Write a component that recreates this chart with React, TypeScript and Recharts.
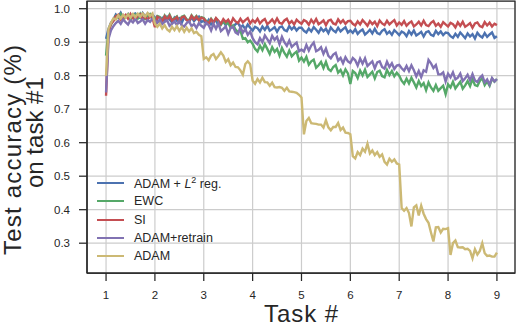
import { LineChart, Line, XAxis, YAxis, CartesianGrid, Legend, Label, ReferenceArea } from 'recharts'

// one sample every 0.05 task, from task 1 to task 9
const SAMPLE_STEP = 0.05
const X_TICKS = [1, 2, 3, 4, 5, 6, 7, 8, 9]
const Y_TICKS = [0.3, 0.4, 0.5, 0.6, 0.7, 0.8, 0.9, 1.0]
const X_DOMAIN = [0.61, 9.37]
const Y_DOMAIN = [0.211, 1.023]

const L2_REG = [
  0.91, 0.94, 0.958, 0.968, 0.983, 0.976, 0.988, 0.973, 0.978, 0.984, 0.97, 0.983, 0.986, 0.975, 0.972, 0.987, 0.977, 0.985, 0.974, 0.982,
  0.974, 0.965, 0.96, 0.972, 0.963, 0.976, 0.968, 0.959, 0.973, 0.964, 0.971, 0.958, 0.975, 0.966, 0.961, 0.974, 0.963, 0.97, 0.976, 0.96,
  0.964, 0.956, 0.967, 0.953, 0.961, 0.965, 0.95, 0.955, 0.962, 0.95, 0.962, 0.948, 0.944, 0.954, 0.958, 0.944, 0.95, 0.939, 0.953, 0.943,
  0.935, 0.946, 0.942, 0.932, 0.947, 0.937, 0.949, 0.934, 0.939, 0.945, 0.931, 0.944, 0.947, 0.936, 0.933, 0.948, 0.938, 0.946, 0.935, 0.943,
  0.943, 0.934, 0.929, 0.941, 0.932, 0.945, 0.937, 0.928, 0.942, 0.933, 0.94, 0.927, 0.944, 0.935, 0.93, 0.943, 0.932, 0.939, 0.945, 0.929,
  0.935, 0.928, 0.939, 0.925, 0.933, 0.938, 0.923, 0.929, 0.937, 0.926, 0.94, 0.927, 0.924, 0.934, 0.939, 0.925, 0.932, 0.922, 0.936, 0.929,
  0.921, 0.932, 0.928, 0.918, 0.933, 0.923, 0.935, 0.92, 0.925, 0.931, 0.917, 0.93, 0.933, 0.922, 0.919, 0.934, 0.924, 0.932, 0.921, 0.929,
  0.927, 0.918, 0.913, 0.925, 0.916, 0.929, 0.921, 0.912, 0.926, 0.917, 0.924, 0.911, 0.928, 0.919, 0.914, 0.927, 0.916, 0.923, 0.929, 0.913,
  0.918,
]

const EWC = [
  0.86, 0.935, 0.952, 0.965, 0.978, 0.973, 0.984, 0.969, 0.975, 0.983, 0.968, 0.974, 0.982, 0.971, 0.985, 0.972, 0.969, 0.979, 0.984, 0.97,
  0.967, 0.978, 0.975, 0.963, 0.98, 0.969, 0.982, 0.966, 0.971, 0.977, 0.962, 0.976, 0.979, 0.968, 0.965, 0.98, 0.97, 0.978, 0.966, 0.975,
  0.972, 0.963, 0.958, 0.97, 0.96, 0.971, 0.962, 0.952, 0.963, 0.955, 0.958, 0.943, 0.95, 0.938, 0.93, 0.935, 0.91, 0.912, 0.9, 0.905,
  0.895, 0.88, 0.872, 0.89, 0.876, 0.894, 0.88, 0.865, 0.885, 0.871, 0.88, 0.86, 0.883, 0.868, 0.857, 0.875, 0.858, 0.866, 0.872, 0.845,
  0.854, 0.842, 0.856, 0.833, 0.843, 0.848, 0.824, 0.831, 0.841, 0.823, 0.841, 0.82, 0.814, 0.826, 0.832, 0.809, 0.817, 0.801, 0.819, 0.807,
  0.775, 0.814, 0.808, 0.793, 0.815, 0.801, 0.818, 0.796, 0.804, 0.812, 0.792, 0.811, 0.815, 0.799, 0.795, 0.817, 0.802, 0.814, 0.798, 0.809,
  0.8, 0.785, 0.776, 0.791, 0.777, 0.794, 0.78, 0.765, 0.784, 0.769, 0.778, 0.757, 0.78, 0.765, 0.755, 0.772, 0.755, 0.763, 0.77, 0.745,
  0.774, 0.765, 0.782, 0.762, 0.772, 0.782, 0.761, 0.771, 0.784, 0.769, 0.79, 0.772, 0.769, 0.784, 0.793, 0.772, 0.783, 0.77, 0.791, 0.782,
  0.79,
]

const SI = [
  0.74, 0.93, 0.955, 0.963, 0.977, 0.982, 0.967, 0.973, 0.981, 0.97, 0.984, 0.971, 0.968, 0.978, 0.983, 0.969, 0.976, 0.966, 0.98, 0.973,
  0.945, 0.976, 0.972, 0.962, 0.977, 0.967, 0.979, 0.964, 0.969, 0.975, 0.961, 0.974, 0.977, 0.966, 0.963, 0.978, 0.968, 0.976, 0.965, 0.973,
  0.97, 0.961, 0.956, 0.968, 0.959, 0.972, 0.964, 0.955, 0.969, 0.96, 0.967, 0.954, 0.971, 0.962, 0.957, 0.97, 0.959, 0.966, 0.972, 0.956,
  0.966, 0.959, 0.97, 0.956, 0.964, 0.969, 0.954, 0.96, 0.968, 0.957, 0.971, 0.958, 0.955, 0.965, 0.97, 0.956, 0.963, 0.953, 0.967, 0.96,
  0.955, 0.966, 0.962, 0.952, 0.967, 0.957, 0.969, 0.954, 0.959, 0.965, 0.951, 0.964, 0.967, 0.956, 0.953, 0.968, 0.958, 0.966, 0.955, 0.963,
  0.964, 0.955, 0.95, 0.962, 0.953, 0.966, 0.958, 0.949, 0.963, 0.954, 0.961, 0.948, 0.965, 0.956, 0.951, 0.964, 0.953, 0.96, 0.966, 0.95,
  0.959, 0.952, 0.963, 0.949, 0.957, 0.962, 0.947, 0.953, 0.961, 0.95, 0.964, 0.951, 0.948, 0.958, 0.963, 0.949, 0.956, 0.946, 0.96, 0.953,
  0.947, 0.958, 0.954, 0.944, 0.959, 0.949, 0.961, 0.946, 0.951, 0.957, 0.943, 0.956, 0.959, 0.948, 0.945, 0.96, 0.95, 0.958, 0.947, 0.955,
  0.951,
]

const ADAM_RETRAIN = [
  0.75, 0.91, 0.935, 0.948, 0.957, 0.964, 0.955, 0.968, 0.96, 0.953, 0.966, 0.959, 0.97, 0.957, 0.962, 0.968, 0.955, 0.966, 0.961, 0.97,
  0.966, 0.958, 0.968, 0.954, 0.961, 0.965, 0.949, 0.955, 0.962, 0.951, 0.964, 0.95, 0.947, 0.957, 0.962, 0.948, 0.954, 0.943, 0.957, 0.949,
  0.943, 0.958, 0.951, 0.935, 0.955, 0.94, 0.956, 0.933, 0.94, 0.947, 0.925, 0.943, 0.946, 0.929, 0.924, 0.945, 0.928, 0.939, 0.922, 0.932,
  0.912, 0.9, 0.894, 0.912, 0.9, 0.92, 0.909, 0.897, 0.919, 0.907, 0.916, 0.894, 0.916, 0.9, 0.889, 0.905, 0.886, 0.893, 0.899, 0.873,
  0.878, 0.872, 0.892, 0.875, 0.89, 0.899, 0.873, 0.877, 0.885, 0.865, 0.881, 0.859, 0.852, 0.863, 0.868, 0.845, 0.853, 0.837, 0.855, 0.843,
  0.838, 0.853, 0.846, 0.83, 0.851, 0.836, 0.852, 0.829, 0.836, 0.843, 0.822, 0.84, 0.843, 0.826, 0.821, 0.842, 0.826, 0.837, 0.82, 0.83,
  0.832, 0.822, 0.815, 0.829, 0.814, 0.831, 0.816, 0.798, 0.814, 0.796, 0.816, 0.812, 0.847, 0.837, 0.823, 0.832, 0.804, 0.804, 0.81, 0.783,
  0.806, 0.795, 0.81, 0.789, 0.794, 0.806, 0.784, 0.792, 0.803, 0.786, 0.805, 0.786, 0.781, 0.794, 0.801, 0.78, 0.789, 0.774, 0.793, 0.783,
  0.79,
]

const ADAM = [
  0.8, 0.94, 0.957, 0.971, 0.968, 0.98, 0.971, 0.982, 0.973, 0.983, 0.974, 0.984, 0.975, 0.985, 0.976, 0.986, 0.977, 0.987, 0.978, 0.986,
  0.955, 0.946, 0.955, 0.941, 0.951, 0.938, 0.932, 0.946, 0.936, 0.948, 0.934, 0.945, 0.931, 0.943, 0.932, 0.941, 0.927, 0.931, 0.922, 0.918,
  0.85, 0.855, 0.846, 0.86, 0.865, 0.85, 0.859, 0.87, 0.86, 0.841, 0.849, 0.831, 0.839, 0.826, 0.825, 0.816, 0.803, 0.835, 0.843, 0.834,
  0.785, 0.776, 0.79, 0.78, 0.794, 0.781, 0.78, 0.77, 0.779, 0.766, 0.765, 0.766, 0.764, 0.755, 0.764, 0.753, 0.752, 0.751, 0.749, 0.743,
  0.735, 0.625, 0.665, 0.674, 0.658, 0.657, 0.656, 0.654, 0.654, 0.645, 0.667, 0.646, 0.637, 0.647, 0.647, 0.659, 0.638, 0.645, 0.63, 0.629,
  0.625, 0.56, 0.553, 0.572, 0.563, 0.582, 0.573, 0.597, 0.568, 0.577, 0.563, 0.572, 0.558, 0.565, 0.543, 0.535, 0.552, 0.543, 0.55, 0.538,
  0.535, 0.405, 0.397, 0.405, 0.39, 0.35, 0.407, 0.413, 0.383, 0.412, 0.388, 0.372, 0.361, 0.332, 0.305, 0.347, 0.348, 0.332, 0.343, 0.342,
  0.345, 0.265, 0.3, 0.308, 0.288, 0.287, 0.288, 0.282, 0.283, 0.277, 0.255, 0.282, 0.266, 0.277, 0.3, 0.27, 0.262, 0.263, 0.26, 0.26,
  0.272,
]

const SERIES = [
  { key: 'l2', name: 'ADAM + L2 reg.', color: '#4C72B0' },
  { key: 'ewc', name: 'EWC', color: '#55A868' },
  { key: 'si', name: 'SI', color: '#C44E52' },
  { key: 'retrain', name: 'ADAM+retrain', color: '#8172B2' },
  { key: 'adam', name: 'ADAM', color: '#CCB974' },
]

const data = SI.map((_, i) => ({
  x: Math.round((1 + i * SAMPLE_STEP) * 100) / 100,
  l2: L2_REG[i],
  ewc: EWC[i],
  si: SI[i],
  retrain: ADAM_RETRAIN[i],
  adam: ADAM[i],
}))

const FONT = '"Liberation Sans", Arial, sans-serif'
const INK = '#262626'

function legendName(key: string, name: string) {
  if (key === 'l2') {
    return (
      <>
        ADAM + <i>L</i>
        <sup style={{ fontSize: 9, verticalAlign: 5 }}>2</sup> reg.
      </>
    )
  }
  return name
}

function InPlotLegend() {
  return (
    <div style={{ fontFamily: FONT, fontSize: 12.5, color: INK }}>
      {SERIES.map((s) => (
        <div key={s.key} style={{ display: 'flex', alignItems: 'center', height: 18.25, whiteSpace: 'nowrap' }}>
          <span style={{ display: 'inline-block', width: 27, height: 2, background: s.color, marginRight: 10 }} />
          <span>{legendName(s.key, s.name)}</span>
        </div>
      ))}
    </div>
  )
}

// two-line y title, each line starts at its bottom end and runs upwards
function YTitle(props: any) {
  const { x, y } = props.viewBox
  return (
    <g fontFamily={FONT} fontSize={24} fill={INK} textAnchor="start">
      <text transform={`translate(${x + 21},${y + 254}) rotate(-90)`} textLength={210} lengthAdjust="spacing">
        Test accuracy (%)
      </text>
      <text transform={`translate(${x + 43},${y + 187}) rotate(-90)`}>on task #1</text>
    </g>
  )
}

function XTitle(props: any) {
  const { x, y, width } = props.viewBox
  return (
    <text
      x={x + width / 2 - 37}
      y={y + 49}
      fontFamily={FONT}
      fontSize={24}
      fill={INK}
      textAnchor="start"
      textLength={74}
      lengthAdjust="spacing"
    >
      Task #
    </text>
  )
}

export default function App() {
  return (
    <div style={{ position: 'absolute', left: 0, top: 0, background: '#fff' }}>
      <LineChart width={516} height={326} data={data} margin={{ top: 1, right: 1, left: 0, bottom: 0 }}>
        <CartesianGrid stroke="#cccccc" strokeWidth={1.2} />
        <XAxis
          dataKey="x"
          type="number"
          domain={X_DOMAIN}
          ticks={X_TICKS}
          allowDataOverflow
          height={53}
          tickSize={8}
          tickMargin={10}
          axisLine={{ stroke: INK, strokeWidth: 1.25 }}
          tickLine={{ stroke: INK, strokeWidth: 1.25 }}
          tick={{ fill: INK, fontSize: 11.5, fontFamily: FONT }}
        >
          <Label content={XTitle} />
        </XAxis>
        <YAxis
          type="number"
          domain={Y_DOMAIN}
          ticks={Y_TICKS}
          allowDataOverflow
          width={87}
          tickSize={8}
          tickMargin={9}
          tickFormatter={(v: number) => v.toFixed(1)}
          axisLine={{ stroke: INK, strokeWidth: 1.25 }}
          tickLine={{ stroke: INK, strokeWidth: 1.25 }}
          tick={{ fill: INK, fontSize: 11.5, fontFamily: FONT }}
        >
          <Label content={YTitle} />
        </YAxis>
        {SERIES.map((s) => (
          <Line
            key={s.key}
            dataKey={s.key}
            name={s.name}
            stroke={s.color}
            strokeWidth={2.4}
            dot={false}
            type="linear"
            isAnimationActive={false}
          />
        ))}
        <ReferenceArea
          x1={X_DOMAIN[0]}
          x2={X_DOMAIN[1]}
          y1={Y_DOMAIN[0]}
          y2={Y_DOMAIN[1]}
          fill="none"
          fillOpacity={0}
          stroke={INK}
          strokeWidth={1.25}
          ifOverflow="visible"
        />
        <Legend
          layout="vertical"
          align="center"
          verticalAlign="middle"
          content={() => <InPlotLegend />}
          wrapperStyle={{ left: 97, top: 174, width: 'auto' }}
        />
      </LineChart>
    </div>
  )
}
